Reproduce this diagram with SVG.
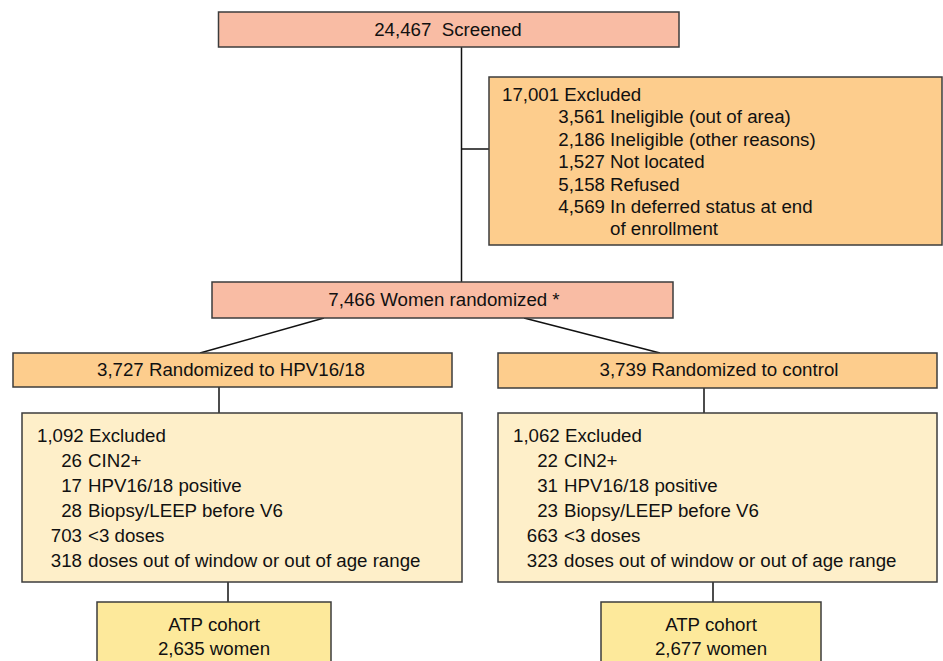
<svg xmlns="http://www.w3.org/2000/svg" width="943" height="661" viewBox="0 0 943 661">
<style>
.box{stroke:#3c3c3c;stroke-width:1.5}
.s{fill:#F9BCA4}.o{fill:#FDCD8D}.p{fill:#FEEFC9}.y{fill:#FDE99B}
text{font-family:"Liberation Sans",Arial,sans-serif;font-size:18.7px;fill:#111}
.c{text-anchor:middle}.r{text-anchor:end}
.ln{stroke:#111;stroke-width:1.5;fill:none}
</style>
<rect width="943" height="661" fill="#fff"/>
<g id="connectors">
<line class="ln" x1="461.5" y1="47" x2="461.5" y2="282"/>
<line class="ln" x1="461.5" y1="149" x2="489" y2="149"/>
<line class="ln" x1="324" y1="318" x2="200" y2="353"/>
<line class="ln" x1="524" y1="318" x2="660" y2="353"/>
<line class="ln" x1="219" y1="387" x2="219" y2="413"/>
<line class="ln" x1="704" y1="388" x2="704" y2="413"/>
<line class="ln" x1="228" y1="582" x2="228" y2="602"/>
<line class="ln" x1="713" y1="582" x2="713" y2="602"/>
</g>
<g id="screened">
<rect class="box s" x="218.5" y="12" width="460.5" height="35"/>
<text class="c" x="448" y="36" xml:space="preserve">24,467  Screened</text>
</g>
<g id="excluded-main">
<rect class="box o" x="489" y="77" width="453" height="168"/>
<text x="502" y="101">17,001 Excluded</text>
<text class="r" x="605" y="123">3,561</text><text x="610" y="123">Ineligible (out of area)</text>
<text class="r" x="605" y="146">2,186</text><text x="610" y="146">Ineligible (other reasons)</text>
<text class="r" x="605" y="168">1,527</text><text x="610" y="168">Not located</text>
<text class="r" x="605" y="191">5,158</text><text x="610" y="191">Refused</text>
<text class="r" x="605" y="213">4,569</text><text x="610" y="213">In deferred status at end</text>
<text x="610" y="235">of enrollment</text>
</g>
<g id="randomized">
<rect class="box s" x="212" y="282" width="461" height="36"/>
<text class="c" x="444" y="306">7,466 Women randomized *</text>
</g>
<g id="hpv">
<rect class="box o" x="13" y="353" width="439" height="34"/>
<text class="c" x="231" y="376">3,727 Randomized to HPV16/18</text>
</g>
<g id="control">
<rect class="box o" x="498" y="353" width="439" height="35"/>
<text class="c" x="719" y="376">3,739 Randomized to control</text>
</g>
<g id="excluded-hpv">
<rect class="box p" x="22" y="413" width="440" height="169"/>
<text x="37" y="442">1,092 Excluded</text>
<text class="r" x="82" y="467">26</text><text x="88" y="467">CIN2+</text>
<text class="r" x="82" y="492">17</text><text x="88" y="492">HPV16/18 positive</text>
<text class="r" x="82" y="517">28</text><text x="88" y="517">Biopsy/LEEP before V6</text>
<text class="r" x="82" y="542">703</text><text x="88" y="542">&lt;3 doses</text>
<text class="r" x="82" y="567">318</text><text x="88" y="567">doses out of window or out of age range</text>
</g>
<g id="excluded-control">
<rect class="box p" x="498" y="413" width="439" height="169"/>
<text x="513" y="442">1,062 Excluded</text>
<text class="r" x="558" y="467">22</text><text x="564" y="467">CIN2+</text>
<text class="r" x="558" y="492">31</text><text x="564" y="492">HPV16/18 positive</text>
<text class="r" x="558" y="517">23</text><text x="564" y="517">Biopsy/LEEP before V6</text>
<text class="r" x="558" y="542">663</text><text x="564" y="542">&lt;3 doses</text>
<text class="r" x="558" y="567">323</text><text x="564" y="567">doses out of window or out of age range</text>
</g>
<g id="atp-hpv">
<rect class="box y" x="97" y="602" width="234" height="70"/>
<text class="c" x="214" y="631">ATP cohort</text>
<text class="c" x="214" y="655">2,635 women</text>
</g>
<g id="atp-control">
<rect class="box y" x="601" y="602" width="220" height="70"/>
<text class="c" x="711" y="631">ATP cohort</text>
<text class="c" x="711" y="655">2,677 women</text>
</g>
</svg>
